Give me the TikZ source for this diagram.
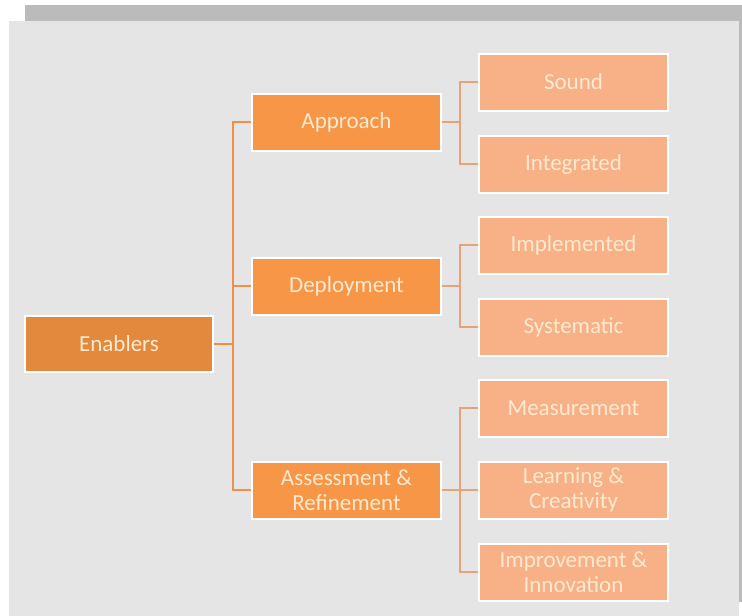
\documentclass[tikz,border=0pt]{standalone}
\usepackage{fontspec}
\setmainfont{Carlito}
\definecolor{bar}{HTML}{BBBBBB}
\definecolor{panel}{HTML}{E5E5E5}
\definecolor{rootfill}{HTML}{E3893E}
\definecolor{midfill}{HTML}{F79646}
\definecolor{leaffill}{HTML}{F8B086}
\definecolor{txt}{HTML}{FCEAD0}
\definecolor{linkA}{HTML}{EE9048}
\definecolor{linkB}{HTML}{E7A377}
\tikzset{
  box/.style={draw=white, line width=2pt, minimum width=189pt, minimum height=57pt,
    inner sep=0pt, text=txt, align=center, font=\fontsize{23}{25}\selectfont},
  rootbox/.style={box, fill=rootfill, minimum width=188pt, minimum height=56pt},
  midbox/.style={box, fill=midfill},
  leafbox/.style={box, fill=leaffill},
  linkone/.style={draw=linkA, line width=1.8pt},
  linktwo/.style={draw=linkB, line width=1.8pt},
}
\begin{document}
\begin{tikzpicture}[x=1pt,y=-1pt]
\useasboundingbox (0,0) rectangle (742,616);
\fill[white] (0,0) rectangle (742,616);
\fill[bar] (25,5) rectangle (742,21);
\fill[bar] (739,5) rectangle (742,602);
\fill[panel] (9,21) rectangle (739,616);

\node[rootbox] (E) at (119,344) {Enablers};
\node[midbox] (A) at (346.5,122) {Approach};
\node[midbox] (D) at (346.5,286) {Deployment};
\node[midbox] (R) at (346.5,490) {Assessment \&\\Refinement};

\node[leafbox] (L1) at (573.5,82) {Sound};
\node[leafbox] (L2) at (573.5,164) {Integrated};
\node[leafbox] (L3) at (573.5,245) {Implemented};
\node[leafbox] (L4) at (573.5,327) {Systematic};
\node[leafbox] (L5) at (573.5,408) {Measurement};
\node[leafbox] (L6) at (573.5,490) {Learning \&\\Creativity};
\node[leafbox] (L7) at (573.5,572) {Improvement \&\\Innovation};

\coordinate (b0) at (233,344);
\coordinate (bA) at (460,122);
\coordinate (bD) at (460,286);
\coordinate (bR) at (460,490);

\draw[linkone] (E.east) -- (b0);
\draw[linkone] (b0) |- (A.west);
\draw[linkone] (b0) |- (D.west);
\draw[linkone] (b0) |- (R.west);

\draw[linktwo] (A.east) -- (bA);
\draw[linktwo] (bA) |- (L1.west);
\draw[linktwo] (bA) |- (L2.west);
\draw[linktwo] (D.east) -- (bD);
\draw[linktwo] (bD) |- (L3.west);
\draw[linktwo] (bD) |- (L4.west);
\draw[linktwo] (R.east) -- (bR);
\draw[linktwo] (bR) |- (L5.west);
\draw[linktwo] (bR) |- (L6.west);
\draw[linktwo] (bR) |- (L7.west);
\end{tikzpicture}
\end{document}
